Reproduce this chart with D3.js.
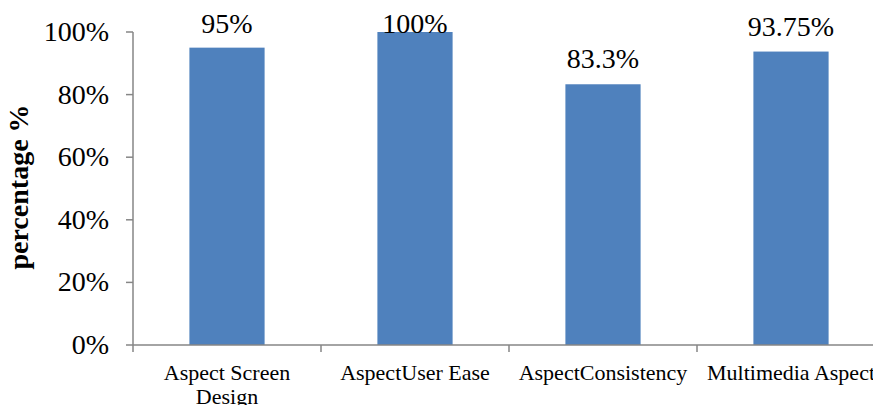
<!DOCTYPE html>
<html><head><meta charset="utf-8">
<script src="https://cdn.jsdelivr.net/npm/d3@7"></script>
<style>body{margin:0;background:#fff}svg{display:block}</style>
</head><body>
<script>
const categories = [["Aspect Screen","Design"],["AspectUser Ease"],["AspectConsistency"],["Multimedia Aspect"]];
const values = [95, 100, 83.3, 93.75];
const valueLabels = ["95%","100%","83.3%","93.75%"];
const yTicks = [0,20,40,60,80,100];
const yTitle = "percentage %";

const W=873,H=405;
const svg=d3.select("body").append("svg").attr("width",W).attr("height",H);
const left=133, zeroY=345, topY=32, step=188;
const x=d3.scaleBand().domain(d3.range(categories.length)).range([left,left+step*categories.length]).paddingInner(0.6).paddingOuter(0.3);
const y=d3.scaleLinear().domain([0,100]).range([zeroY,topY]);
const axisColor="#868686";
const font="'Liberation Serif', 'Times New Roman', serif";

// bars
svg.selectAll("rect.bar").data(values).join("rect")
  .attr("x",(d,i)=>x(i)).attr("y",d=>y(d)).attr("width",x.bandwidth()).attr("height",d=>zeroY-y(d))
  .attr("fill","#4F81BD");

// y axis
svg.append("line").attr("x1",left).attr("x2",left).attr("y1",topY).attr("y2",zeroY).attr("stroke",axisColor).attr("stroke-width",1.5);
svg.selectAll("line.yt").data(yTicks).join("line")
  .attr("x1",left-7).attr("x2",left).attr("y1",d=>y(d)).attr("y2",d=>y(d)).attr("stroke",axisColor).attr("stroke-width",1.5);
svg.selectAll("text.yl").data(yTicks).join("text")
  .attr("x",left-24).attr("y",d=>y(d)+9).attr("text-anchor","end")
  .attr("font-family",font).attr("font-size",28).attr("fill","#000").text(d=>d+"%");

// x axis
svg.append("line").attr("x1",left).attr("x2",W).attr("y1",zeroY).attr("y2",zeroY).attr("stroke",axisColor).attr("stroke-width",1.5);
svg.selectAll("line.xt").data(d3.range(categories.length+1)).join("line")
  .attr("x1",i=>left+step*i).attr("x2",i=>left+step*i).attr("y1",zeroY).attr("y2",zeroY+7).attr("stroke",axisColor).attr("stroke-width",1.5);
const xl=svg.selectAll("text.xl").data(categories).join("text")
  .attr("x",(d,i)=>x(i)+x.bandwidth()/2).attr("y",zeroY+35).attr("text-anchor","middle")
  .attr("font-family",font).attr("font-size",22).attr("fill","#000");
xl.selectAll("tspan").data((d,i)=>d.map(t=>({t,i}))).join("tspan")
  .attr("x",d=>x(d.i)+x.bandwidth()/2).attr("dy",(d,j)=>j===0?0:24).text(d=>d.t);

// data labels
svg.selectAll("text.vl").data(values).join("text")
  .attr("x",(d,i)=>x(i)+x.bandwidth()/2).attr("y",d=>Math.max(y(d)-16,33)).attr("text-anchor","middle")
  .attr("font-family",font).attr("font-size",28).attr("fill","#000").text((d,i)=>valueLabels[i]);

// y title
svg.append("text").attr("transform","translate(28,187) rotate(-90)").attr("text-anchor","middle")
  .attr("font-family",font).attr("font-weight","bold").attr("font-size",28).attr("fill","#000").text(yTitle);
</script>
</body></html>
